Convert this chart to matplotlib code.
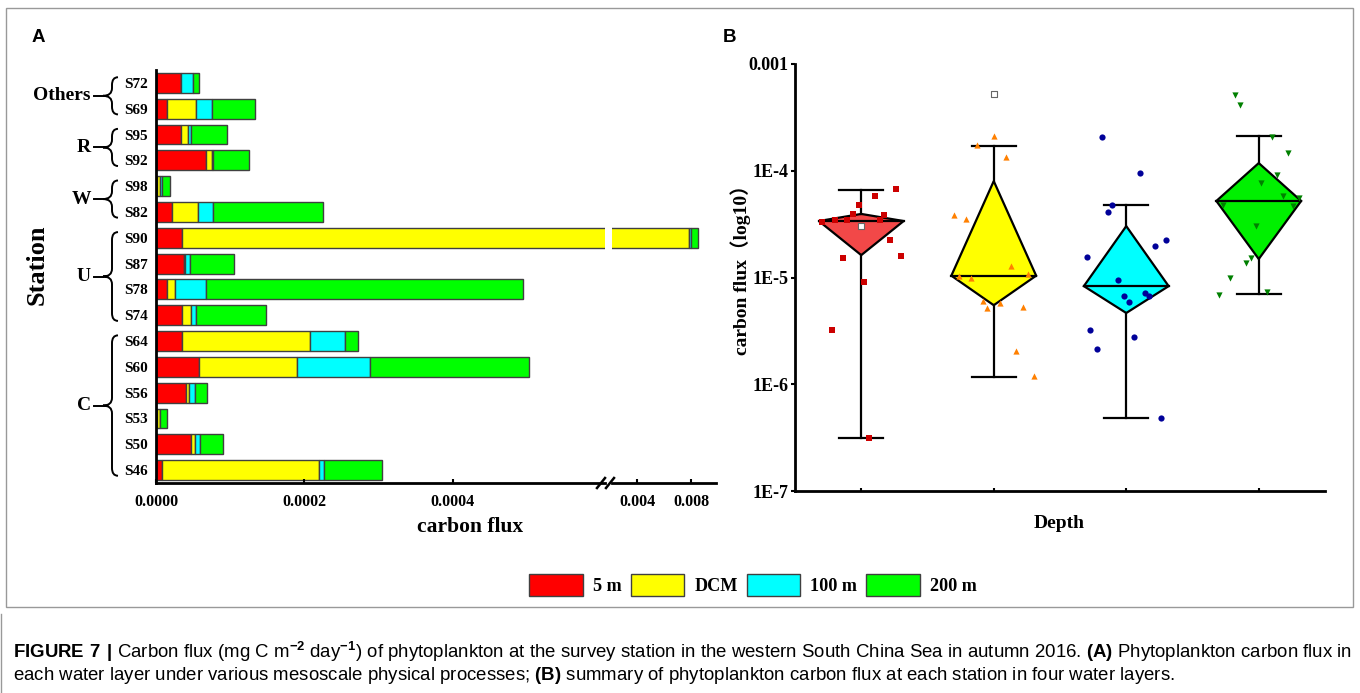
import numpy as np
import matplotlib
matplotlib.use("Agg")
import matplotlib.pyplot as plt
import matplotlib.transforms as mtransforms
from matplotlib.patches import Polygon, Patch, PathPatch, Rectangle
from matplotlib.path import Path
from matplotlib.lines import Line2D
from matplotlib.ticker import NullLocator

plt.rcParams['font.family'] = ['Liberation Serif', 'Noto Sans CJK SC', 'DejaVu Sans']
plt.rcParams['font.weight'] = 'bold'
plt.rcParams['mathtext.fontset'] = 'custom'
plt.rcParams['mathtext.rm'] = 'Liberation Sans'
plt.rcParams['mathtext.bf'] = 'Liberation Sans:bold'

# --- Panel A: carbon flux per water layer (mg C m-2 day-1) ---
stations = ['S72', 'S69', 'S95', 'S92', 'S98', 'S82', 'S90', 'S87',
            'S78', 'S74', 'S64', 'S60', 'S56', 'S53', 'S50', 'S46']
flux_5m = [3.4e-5, 1.5e-5, 3.4e-5, 6.7e-5, 0.1e-5, 2.2e-5, 3.5e-5, 3.8e-5,
           1.5e-5, 3.5e-5, 3.5e-5, 5.8e-5, 4.0e-5, 0.1e-5, 4.7e-5, 0.8e-5]
flux_dcm = [0.0, 3.9e-5, 0.9e-5, 0.9e-5, 0.5e-5, 3.5e-5, 7.8e-3, 0.1e-5,
            1.1e-5, 1.2e-5, 17.2e-5, 13.2e-5, 0.4e-5, 0.4e-5, 0.5e-5, 21.1e-5]
flux_100m = [1.6e-5, 2.2e-5, 0.4e-5, 0.1e-5, 0.2e-5, 2.0e-5, 2.0e-4, 0.7e-5,
             4.2e-5, 0.7e-5, 4.8e-5, 9.8e-5, 0.9e-5, 0.1e-5, 0.7e-5, 0.7e-5]
flux_200m = [0.8e-5, 5.7e-5, 4.9e-5, 4.8e-5, 1.1e-5, 14.8e-5, 5.0e-4, 5.9e-5,
             42.6e-5, 9.4e-5, 1.7e-5, 21.4e-5, 1.6e-5, 0.9e-5, 3.1e-5, 7.8e-5]
layer_names = ['5 m', 'DCM', '100 m', '200 m']

# mesoscale process groups: (label, first row, last row)
groups = [('Others', 0, 1), ('R', 2, 3), ('W', 4, 5), ('U', 6, 9), ('C', 10, 15)]

# --- Panel B: summary per water layer ---
depth_pos = [1, 2, 3, 4]
whisker_hi = [6.6e-5, 1.7e-4, 4.8e-5, 2.12e-4]
q3 = [3.94e-5, 8.0e-5, 3.03e-5, 1.18e-4]
median = [3.38e-5, 1.04e-5, 8.3e-6, 5.21e-5]
q1 = [1.62e-5, 5.5e-6, 4.65e-6, 1.49e-5]
whisker_lo = [3.14e-7, 1.17e-6, 4.83e-7, 7.0e-6]
mean_x = [1.0, 2.0]
mean_y = [3.03e-5, 5.2e-4]

pts_5m_x = [1.26, 1.10, 0.98, 0.94, 1.17, 0.70, 0.80, 0.89, 1.14, 1.22, 0.86, 1.30, 1.02, 0.78, 1.06]
pts_5m_y = [6.7e-5, 5.8e-5, 4.8e-5, 3.9e-5, 3.85e-5, 3.3e-5, 3.45e-5, 3.45e-5, 3.45e-5,
            2.24e-5, 1.52e-5, 1.59e-5, 9.1e-6, 3.22e-6, 3.13e-7]
pts_dcm_x = [2.00, 1.87, 2.09, 1.70, 1.79, 2.13, 1.74, 1.83, 2.26, 1.92, 1.95, 2.05, 2.22, 2.17, 2.30]
pts_dcm_y = [2.12e-4, 1.74e-4, 1.35e-4, 3.85e-5, 3.53e-5, 1.28e-5, 1.03e-5, 1.0e-5, 1.08e-5,
             6.0e-6, 5.2e-6, 5.8e-6, 5.3e-6, 2.05e-6, 1.19e-6]
pts_100m_x = [2.82, 3.10, 2.89, 2.86, 3.30, 3.22, 2.70, 2.94, 3.14, 3.17, 2.98, 3.02, 2.73, 3.06, 2.78, 3.26]
pts_100m_y = [2.07e-4, 9.5e-5, 4.8e-5, 4.1e-5, 2.24e-5, 1.97e-5, 1.56e-5, 9.5e-6, 7.2e-6,
              6.7e-6, 6.7e-6, 5.9e-6, 3.22e-6, 2.77e-6, 2.14e-6, 4.83e-7]
pts_200m_x = [3.82, 3.86, 4.10, 4.22, 4.14, 4.02, 4.18, 4.30, 3.73, 4.26, 3.98, 3.94, 3.90, 3.78, 3.70, 4.06]
pts_200m_y = [5.1e-4, 4.1e-4, 2.07e-4, 1.47e-4, 9.1e-5, 7.7e-5, 5.8e-5, 5.6e-5, 4.8e-5,
              4.7e-5, 3.03e-5, 1.52e-5, 1.37e-5, 9.9e-6, 6.9e-6, 7.3e-6]

BAR_COLORS = ['#FF0000', '#FFFF00', '#00FFFF', '#00FF00']
BOX_COLORS = ['#F24848', '#FFFF00', '#00FFFF', '#00F000']
PT_COLORS = ['#CC0000', '#FF8000', '#000099', '#008000']
PT_MARKERS = ['s', '^', 'o', 'v']

W, H = 1360, 693
fig = plt.figure(figsize=(W / 100, H / 100), dpi=100)


def fbox(x0, y0, x1, y1):
    # pixel box (top-left origin) -> figure fraction rect
    return [x0 / W, 1 - y1 / H, (x1 - x0) / W, (y1 - y0) / H]


# frames
fig.patches.append(Rectangle((6 / W, 1 - 607 / H), 1347 / W, 599 / H, transform=fig.transFigure,
                             fill=False, edgecolor='#999999', linewidth=1))
fig.add_artist(Line2D([0.6 / W, 0.6 / W], [0, 1 - 614 / H], transform=fig.transFigure,
                      color='#999999', linewidth=1))

# ---------------- Panel A ----------------
axA = fig.add_axes(fbox(156, 70, 605, 483))
axA2 = fig.add_axes(fbox(612, 70, 716, 483))
ypos = np.arange(len(stations))
for ax in (axA, axA2):
    left = np.zeros(len(stations))
    for vals, c in zip([flux_5m, flux_dcm, flux_100m, flux_200m], BAR_COLORS):
        ax.barh(ypos, vals, left=left, height=0.77, color=c, edgecolor='#404040', linewidth=1)
        left += np.array(vals)
    ax.set_ylim(15.5, -0.5)
    for s in ('top', 'right'):
        ax.spines[s].set_visible(False)
    ax.spines['bottom'].set_linewidth(2)
    ax.tick_params(axis='x', direction='in', length=3, width=1.5, labelsize=11.5, pad=8)

axA.set_xlim(0, 0.000605)
axA.spines['left'].set_linewidth(2)
axA.set_xticks([0, 0.0002, 0.0004], ['0.0000', '0.0002', '0.0004'])
axA.set_yticks(ypos, stations)
axA.tick_params(axis='y', length=0, labelsize=11, pad=6)

axA2.set_xlim(0.00215, 0.00985)
axA2.spines['left'].set_visible(False)
axA2.set_yticks([])
axA2.set_xticks([0.004, 0.008], ['0.004', '0.008'])

# axis break marks
for cx in (601, 610):
    fig.add_artist(Line2D([(cx - 4) / W, (cx + 4) / W], [1 - 488 / H, 1 - 478 / H],
                          transform=fig.transFigure, color='black', linewidth=1.8))

# group braces
bt = mtransforms.blended_transform_factory(fig.transFigure, axA.transData)
for name, r0, r1 in groups:
    y0, y1 = r0 - 0.22, r1 + 0.22
    ym = (y0 + y1) / 2
    r = 0.3
    xt, xb, xc = 118 / W, 112 / W, 103 / W
    verts = [(xt, y0), (xb, y0), (xb, y0 + r), (xb, ym - r), (xb, ym), (xc, ym),
             (xb, ym), (xb, ym + r), (xb, y1 - r), (xb, y1), (xt, y1)]
    codes = [Path.MOVETO, Path.CURVE3, Path.CURVE3, Path.LINETO, Path.CURVE3, Path.CURVE3,
             Path.CURVE3, Path.CURVE3, Path.LINETO, Path.CURVE3, Path.CURVE3]
    fig.add_artist(PathPatch(Path(verts, codes), transform=bt, fill=False,
                             edgecolor='black', linewidth=1.4))
    fig.add_artist(Line2D([94 / W, xc], [ym, ym], transform=bt, color='black', linewidth=1.4))
    fig.text(91 / W, ym, name, transform=bt, ha='right', va='center', fontsize=14)

fig.text(37 / W, 1 - 265 / H, 'Station', rotation=90, ha='center', va='center', fontsize=19)
fig.text(470 / W, 1 - 527 / H, 'carbon flux', ha='center', va='center', fontsize=15.5)

# ---------------- Panel B ----------------
axB = fig.add_axes(fbox(795, 64, 1325, 491))
axB.set_yscale('log')
axB.set_ylim(1e-7, 1e-3)
axB.set_xlim(0.5, 4.5)
w, cap = 0.32, 0.167
for i, x in enumerate(depth_pos):
    diamond = Polygon([(x - w, median[i]), (x, q3[i]), (x + w, median[i]), (x, q1[i])],
                      closed=True, facecolor=BOX_COLORS[i], edgecolor='black', linewidth=1.6, zorder=2)
    axB.add_patch(diamond)
    axB.plot([x - w, x + w], [median[i], median[i]], color='black', linewidth=1.6, zorder=2)
    axB.plot([x, x], [q3[i], whisker_hi[i]], color='black', linewidth=1.6, zorder=2)
    axB.plot([x, x], [q1[i], whisker_lo[i]], color='black', linewidth=1.6, zorder=2)
    for yv in (whisker_hi[i], whisker_lo[i]):
        axB.plot([x - cap, x + cap], [yv, yv], color='black', linewidth=1.6, zorder=2)

for px, py, c, m in zip([pts_5m_x, pts_dcm_x, pts_100m_x, pts_200m_x],
                        [pts_5m_y, pts_dcm_y, pts_100m_y, pts_200m_y], PT_COLORS, PT_MARKERS):
    axB.scatter(px, py, s=20, marker=m, color=c, linewidths=0, zorder=3)
axB.scatter(mean_x, mean_y, s=18, marker='s', facecolor='white', edgecolor='#666666',
            linewidths=0.8, zorder=4)

for s in ('top', 'right'):
    axB.spines[s].set_visible(False)
for s in ('left', 'bottom'):
    axB.spines[s].set_linewidth(2)
axB.yaxis.set_minor_locator(NullLocator())
axB.set_yticks([1e-7, 1e-6, 1e-5, 1e-4, 1e-3], ['1E-7', '1E-6', '1E-5', '1E-4', '0.001'])
axB.tick_params(axis='y', direction='out', length=3, width=1.5, labelsize=13, pad=2)
axB.set_xticks(depth_pos, [])
axB.tick_params(axis='x', direction='in', length=2, width=1.5)

fig.text(741 / W, 1 - 265 / H, 'carbon flux（log10）', rotation=90, ha='center', va='center', fontsize=14)
fig.text(1059 / W, 1 - 523 / H, 'Depth', ha='center', va='center', fontsize=14)

# panel letters
fig.text(38 / W, 1 - 38 / H, 'A', family='Liberation Sans', fontsize=13.5, ha='center', va='center')
fig.text(730 / W, 1 - 38 / H, 'B', family='Liberation Sans', fontsize=13.5, ha='center', va='center')

# legend
handles = [Patch(facecolor=c, edgecolor='#404040', linewidth=1) for c in BAR_COLORS]
fig.legend(handles, layer_names, loc='center', bbox_to_anchor=(753 / W, 1 - 585 / H), ncol=4,
           frameon=False, handlelength=2.95, handleheight=1.45, handletextpad=0.55,
           columnspacing=0.5, prop={'weight': 'bold', 'size': 13.1})

# caption
cap_font = ['Liberation Sans', 'DejaVu Sans']
caption1 = (r"$\mathbf{FIGURE\ 7\ |}$ Carbon flux (mg C m$^{-2}$ day$^{-1}$) of phytoplankton at the survey "
            r"station in the western South China Sea in autumn 2016. $\mathbf{(A)}$ Phytoplankton carbon flux in")
caption2 = (r"each water layer under various mesoscale physical processes; $\mathbf{(B)}$ summary of "
            r"phytoplankton carbon flux at each station in four water layers.")
fig.text(13 / W, 1 - 652 / H, caption1, family=cap_font, weight='normal', fontsize=13.4, va='center')
fig.text(13 / W, 1 - 676 / H, caption2, family=cap_font, weight='normal', fontsize=13.4, va='center')

fig.savefig('out.png', dpi=100)
